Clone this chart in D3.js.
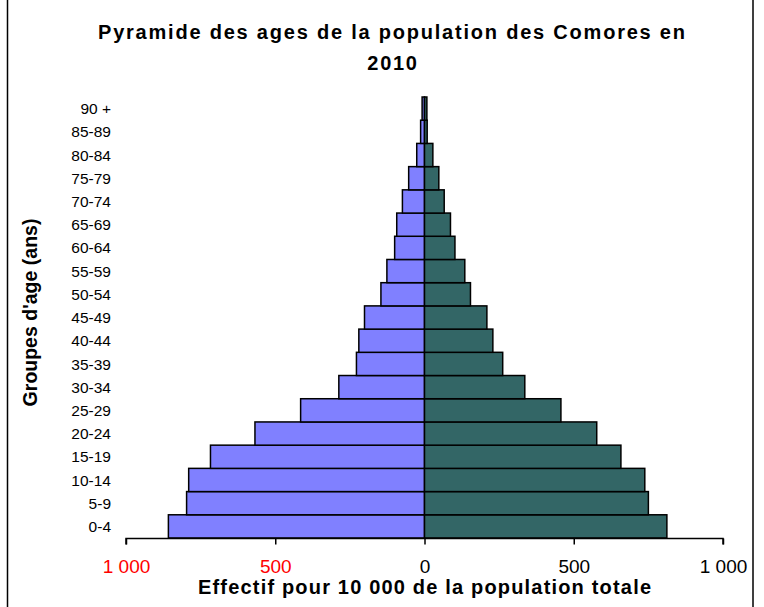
<!DOCTYPE html>
<html>
<head>
<meta charset="utf-8">
<script src="https://cdn.jsdelivr.net/npm/d3@7"></script>
<style>
  html, body { margin: 0; padding: 0; background: #fff; }
  svg { display: block; font-family: "Liberation Sans", Arial, sans-serif; }
</style>
</head>
<body>
<svg id="chart" width="764" height="607"></svg>
<script>
// ---- Data ----
const ageGroups = ["0-4","5-9","10-14","15-19","20-24","25-29","30-34","35-39","40-44","45-49",
                   "50-54","55-59","60-64","65-69","70-74","75-79","80-84","85-89","90 +"];
const hommes = [858, 797, 790, 717, 568, 415, 287, 228, 220, 201, 146, 126, 100, 93, 74, 53, 26, 13, 8];
const femmes = [812, 750, 738, 658, 577, 457, 336, 262, 229, 209, 154, 135, 102, 87, 66, 48, 28, 9, 8];
const xTicks = [-1000, -500, 0, 500, 1000];
const titleLines = ["Pyramide des ages de la population des Comores en", "2010"];
const xTitle = "Effectif pour 10 000 de la population totale";
const yTitle = "Groupes d'age (ans)";

const svg = d3.select("#chart");

// frame
svg.append("rect").attr("x", 7.5).attr("y", -10).attr("width", 745.5).attr("height", 630)
  .attr("fill", "none").attr("stroke", "#000").attr("stroke-width", 1.5);

const x = d3.scaleLinear().domain([-1000, 1000]).range([126, 723]);
const y = d3.scaleBand().domain(ageGroups.slice().reverse()).range([97, 538]).padding(0);

const rows = ageGroups.map((g, i) => ({ g, h: hommes[i], f: femmes[i] }));

// bars
const g = svg.append("g");
g.selectAll("rect.h").data(rows).join("rect").attr("class", "h")
  .attr("x", d => x(-d.h)).attr("y", d => y(d.g))
  .attr("width", d => x(0) - x(-d.h)).attr("height", y.bandwidth())
  .attr("fill", "#8080FF").attr("stroke", "#000").attr("stroke-width", 1.5);
g.selectAll("rect.f").data(rows).join("rect").attr("class", "f")
  .attr("x", x(0)).attr("y", d => y(d.g))
  .attr("width", d => x(d.f) - x(0)).attr("height", y.bandwidth())
  .attr("fill", "#336666").attr("stroke", "#000").attr("stroke-width", 1.5);

// y labels
svg.append("g").selectAll("text").data(ageGroups).join("text")
  .attr("x", 111).attr("y", d => y(d) + y.bandwidth() / 2)
  .attr("dy", "0.36em").attr("text-anchor", "end")
  .attr("font-size", 15.5).attr("fill", "#000").text(d => d);

// x axis
const loc = d3.formatLocale({ decimal: ",", thousands: " ", grouping: [3], currency: ["", ""] });
const fmt = loc.format(",d");
const xAxis = d3.axisBottom(x).tickValues(xTicks).tickSize(6).tickPadding(15)
  .tickFormat(d => fmt(Math.abs(d)));
const ax = svg.append("g").attr("transform", "translate(0,538.5)").call(xAxis);
ax.select(".domain").attr("stroke", "#000").attr("stroke-width", 1.5).attr("d", `M${x(-1000)},6V0H${x(1000)}V6`);
ax.selectAll(".tick line").attr("stroke", "#000").attr("stroke-width", 1.5);
ax.selectAll(".tick text")
  .attr("font-family", "'Liberation Sans', Arial, sans-serif")
  .attr("font-size", 19)
  .attr("fill", d => d < 0 ? "#FF0000" : "#000");

// title
svg.append("text").attr("x", 391.5).attr("y", 38.5).attr("text-anchor", "middle")
  .attr("font-size", 20).attr("font-weight", "bold")
  .attr("textLength", 587).attr("lengthAdjust", "spacing").text(titleLines[0]);
svg.append("text").attr("x", 393).attr("y", 69.5).attr("text-anchor", "middle")
  .attr("font-size", 20).attr("font-weight", "bold")
  .attr("letter-spacing", 1.7).text(titleLines[1]);

// x title
svg.append("text").attr("x", 424.5).attr("y", 594).attr("text-anchor", "middle")
  .attr("font-size", 20).attr("font-weight", "bold")
  .attr("textLength", 453).attr("lengthAdjust", "spacing").text(xTitle);

// y title
svg.append("text").attr("transform", "translate(36.5,312.5) rotate(-90)")
  .attr("text-anchor", "middle").attr("font-size", 19.5).attr("font-weight", "bold")
  .text(yTitle);
</script>
</body>
</html>
